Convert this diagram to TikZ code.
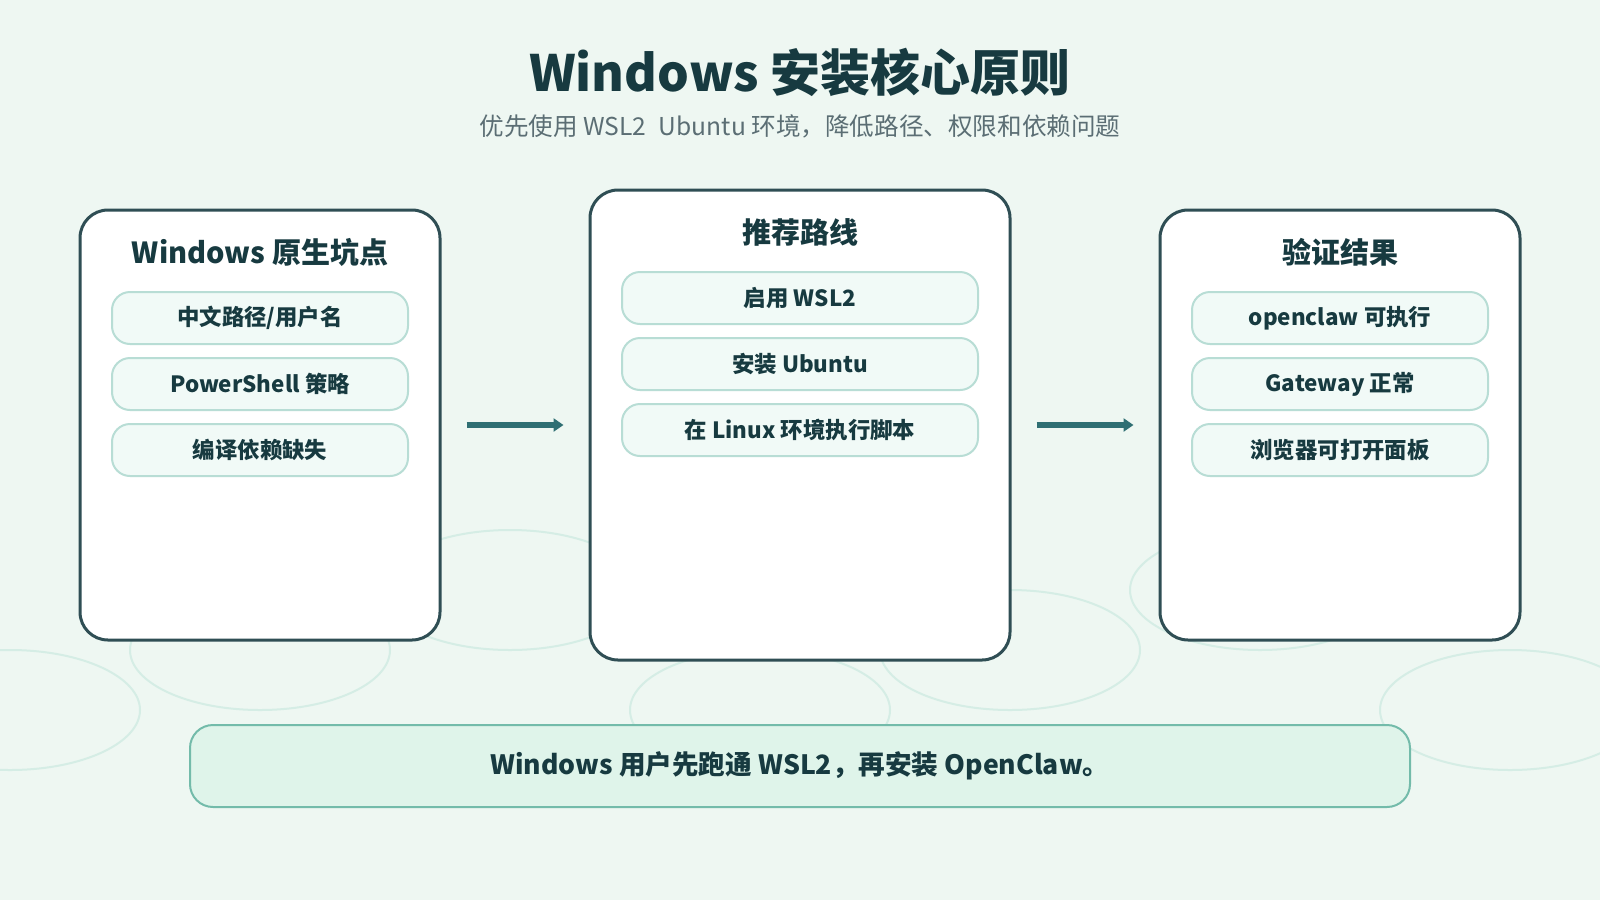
\documentclass[tikz,border=0pt]{standalone}
\usepackage{fontspec}
\setmainfont{Noto Sans CJK SC}
\usetikzlibrary{arrows.meta}
\definecolor{bgmint}{HTML}{EEF7F2}
\definecolor{ringmint}{HTML}{D5EDE5}
\definecolor{inkdark}{HTML}{173A40}
\definecolor{panelline}{HTML}{2F4E54}
\definecolor{pillfill}{HTML}{F1FAF7}
\definecolor{pillline}{HTML}{B8DDD5}
\definecolor{subgray}{HTML}{5B6E74}
\definecolor{arrowteal}{HTML}{2F6F73}
\definecolor{bannerfill}{HTML}{DFF4EA}
\definecolor{bannerline}{HTML}{73BBAA}
\begin{document}
\begin{tikzpicture}[x=0.5pt, y=-0.5pt,
  panel/.style={draw=panelline, line width=1.5pt, fill=white, rounded corners=14pt},
  paneltitle/.style={font=\bfseries\fontsize{14.5}{17}\selectfont, text=inkdark},
  pill/.style={draw=pillline, line width=1pt, fill=pillfill, rounded corners=9pt, minimum height=26pt, font=\bfseries\fontsize{11.2}{13}\selectfont, text=inkdark},
  flow/.style={arrowteal, line width=2.8pt, shorten <=12.5pt, shorten >=12.5pt, -{Triangle[length=5pt,width=6.5pt]}},
  ring/.style={ringmint, line width=1pt}]
\useasboundingbox (0,0) rectangle (1600,900);
\fill[bgmint] (0,0) rectangle (1600,900);
% background rings
\draw[ring] (10,710) ellipse [x radius=130, y radius=60];
\draw[ring] (260,650) ellipse [x radius=130, y radius=60];
\draw[ring] (510,590) ellipse [x radius=130, y radius=60];
\draw[ring] (760,710) ellipse [x radius=130, y radius=60];
\draw[ring] (1010,650) ellipse [x radius=130, y radius=60];
\draw[ring] (1260,590) ellipse [x radius=130, y radius=60];
\draw[ring] (1510,710) ellipse [x radius=130, y radius=60];
% heading
\node[font=\bfseries\fontsize{25}{30}\selectfont, text=inkdark] (title) at (800,72) {Windows 安装核心原则};
\node[font=\fontsize{12.3}{14}\selectfont, text=subgray] (subtitle) at (800,126) {优先使用 WSL2\enspace Ubuntu 环境，降低路径、权限和依赖问题};
% panels
\node[panel, minimum width=180pt, minimum height=215pt] (pits) at (260,425) {};
\node[panel, minimum width=210pt, minimum height=235pt] (route) at (800,425) {};
\node[panel, minimum width=180pt, minimum height=215pt] (check) at (1340,425) {};
\node[paneltitle] (pitstitle) at (260,252) {Windows 原生坑点};
\node[paneltitle] (routetitle) at (800,232) {推荐路线};
\node[paneltitle] (checktitle) at (1340,252) {验证结果};
\node[pill, minimum width=148pt] (pitsa) at (260,318) {中文路径/用户名};
\node[pill, minimum width=148pt] (pitsb) at (260,384) {PowerShell 策略};
\node[pill, minimum width=148pt] (pitsc) at (260,450) {编译依赖缺失};
\node[pill, minimum width=178pt] (routea) at (800,298) {启用 WSL2};
\node[pill, minimum width=178pt] (routeb) at (800,364) {安装 Ubuntu};
\node[pill, minimum width=178pt] (routec) at (800,430) {在 Linux 环境执行脚本};
\node[pill, minimum width=148pt] (checka) at (1340,318) {openclaw 可执行};
\node[pill, minimum width=148pt] (checkb) at (1340,384) {Gateway 正常};
\node[pill, minimum width=148pt] (checkc) at (1340,450) {浏览器可打开面板};
% arrows
\draw[flow] (pits) -- (route);
\draw[flow] (route) -- (check);
% banner
\node[draw=bannerline, line width=1pt, fill=bannerfill, rounded corners=11.5pt, minimum width=610pt, minimum height=41pt, font=\bfseries\fontsize{13.3}{16}\selectfont, text=inkdark] (banner) at (800,766) {Windows 用户先跑通 WSL2，再安装 OpenClaw。};
\end{tikzpicture}
\end{document}
